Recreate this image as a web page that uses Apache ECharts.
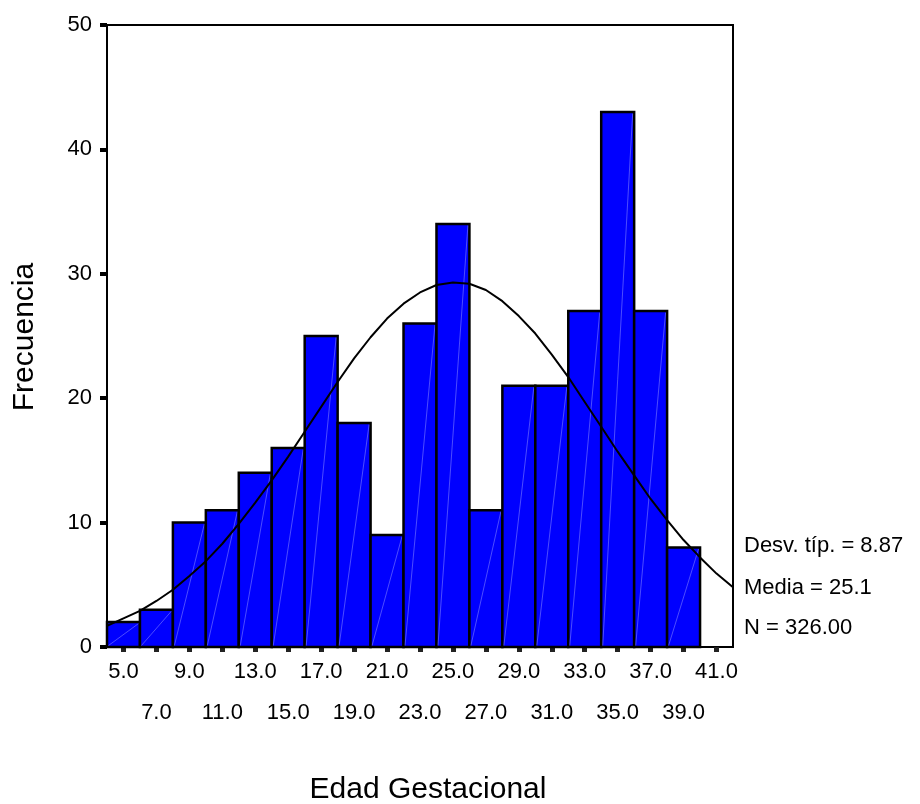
<!DOCTYPE html>
<html>
<head>
<meta charset="utf-8">
<script src="https://cdn.jsdelivr.net/npm/echarts@6/dist/echarts.min.js"></script>
<style>
html,body{margin:0;padding:0;background:#fff;}
#chart{width:920px;height:804px;}
</style>
</head>
<body>
<div id="chart"></div>
<script>
// ---- data ----
var binCenters = [5, 7, 9, 11, 13, 15, 17, 19, 21, 23, 25, 27, 29, 31, 33, 35, 37, 39];
var counts     = [2, 3, 10, 11, 14, 16, 25, 18, 9, 26, 34, 11, 21, 21, 27, 43, 27, 8];
var binWidth = 2;

var curveX = [4,5,6,7,8,9,10,11,12,13,14,15,16,17,18,19,20,21,22,23,24,25,26,27,28,29,30,31,32,33,34,35,36,37,38,39,40,41,42];
var curveY = [1.7,2.3,2.9,3.7,4.6,5.7,6.9,8.3,9.9,11.6,13.4,15.3,17.3,19.3,21.3,23.2,24.9,26.4,27.6,28.5,29.1,29.3,29.2,28.7,27.8,26.6,25.2,23.5,21.7,19.7,17.7,15.7,13.8,11.9,10.2,8.6,7.2,5.9,4.8];

var xTickValues = [5,7,9,11,13,15,17,19,21,23,25,27,29,31,33,35,37,39,41];
var xLabelsRow1 = [5,9,13,17,21,25,29,33,37,41];
var xLabelsRow2 = [7,11,15,19,23,27,31,35,39];
var yTicks = [0,10,20,30,40,50];

var xTitle = 'Edad Gestacional';
var yTitle = 'Frecuencia';
var statLabels = ['Desv. típ. = 8.87', 'Media = 25.1', 'N = 326.00'];

// ---- chart ----
var FONT = "'Liberation Sans', Arial, sans-serif";
var chart = echarts.init(document.getElementById('chart'), null, {renderer: 'canvas'});

var barData = binCenters.map(function (c, i) { return [c, counts[i]]; });
var curveData = curveX.map(function (x, i) { return [x, curveY[i]]; });

var option = {
  animation: false,
  backgroundColor: '#fff',
  grid: {
    left: 107, right: 187, top: 25, bottom: 157,
    show: true, borderColor: '#000', borderWidth: 2, backgroundColor: 'transparent'
  },
  xAxis: [
    {
      type: 'value', min: 4, max: 42, position: 'bottom', offset: 0,
      splitLine: {show: false},
      axisLine: {show: true, lineStyle: {color: '#000', width: 2}},
      axisTick: {show: true, customValues: xTickValues, length: 5, inside: false,
                 lineStyle: {color: '#222', width: 5}},
      axisLabel: {show: true, customValues: xLabelsRow1, margin: 14,
                  fontFamily: FONT, fontSize: 22, color: '#000',
                  formatter: function (v) { return Number(v).toFixed(1); }}
    },
    {
      type: 'value', min: 4, max: 42, position: 'bottom', offset: 0,
      splitLine: {show: false},
      axisLine: {show: false},
      axisTick: {show: false},
      axisLabel: {show: true, customValues: xLabelsRow2, margin: 55,
                  fontFamily: FONT, fontSize: 22, color: '#000',
                  formatter: function (v) { return Number(v).toFixed(1); }}
    }
  ],
  yAxis: {
    type: 'value', min: yTicks[0], max: yTicks[yTicks.length - 1], interval: 10,
    splitLine: {show: false},
    axisLine: {show: true, lineStyle: {color: '#000', width: 2}},
    axisTick: {show: true, length: 7, lineStyle: {color: '#000', width: 4}},
    axisLabel: {margin: 15, fontFamily: FONT, fontSize: 22, color: '#000'}
  },
  series: [
    {
      type: 'custom',
      xAxisIndex: 0,
      data: barData,
      z: 2,
      renderItem: function (params, api) {
        var c = api.value(0), v = api.value(1);
        var p0 = api.coord([c - binWidth / 2, 0]);
        var p1 = api.coord([c + binWidth / 2, v]);
        return {
          type: 'group',
          children: [
            {
              type: 'rect',
              shape: {x: p0[0], y: p1[1], width: p1[0] - p0[0], height: p0[1] - p1[1]},
              style: {fill: '#0000FF', stroke: '#000', lineWidth: 2.5}
            },
            {
              type: 'line',
              shape: {x1: p0[0] + 1.5, y1: p0[1] - 1.5, x2: p1[0] - 1.5, y2: p1[1] + 1.5},
              style: {stroke: 'rgba(190,190,255,0.4)', lineWidth: 1}
            }
          ]
        };
      }
    },
    {
      type: 'line',
      xAxisIndex: 0,
      data: curveData,
      showSymbol: false,
      symbol: 'none',
      smooth: false,
      z: 5,
      lineStyle: {color: '#000', width: 2}
    }
  ],
  graphic: [
    {type: 'text', x: 25, y: 337, rotation: Math.PI / 2,
     style: {text: yTitle, font: '30px ' + FONT, fill: '#000', align: 'center', verticalAlign: 'middle'}},
    {type: 'text', x: 428, y: 790,
     style: {text: xTitle, font: '30px ' + FONT, fill: '#000', align: 'center', verticalAlign: 'middle'}},
    {type: 'text', x: 744, y: 546,
     style: {text: statLabels[0], font: '22px ' + FONT, fill: '#000', align: 'left', verticalAlign: 'middle'}},
    {type: 'text', x: 744, y: 588,
     style: {text: statLabels[1], font: '22px ' + FONT, fill: '#000', align: 'left', verticalAlign: 'middle'}},
    {type: 'text', x: 744, y: 628,
     style: {text: statLabels[2], font: '22px ' + FONT, fill: '#000', align: 'left', verticalAlign: 'middle'}}
  ]
};
chart.setOption(option);
</script>
</body>
</html>
